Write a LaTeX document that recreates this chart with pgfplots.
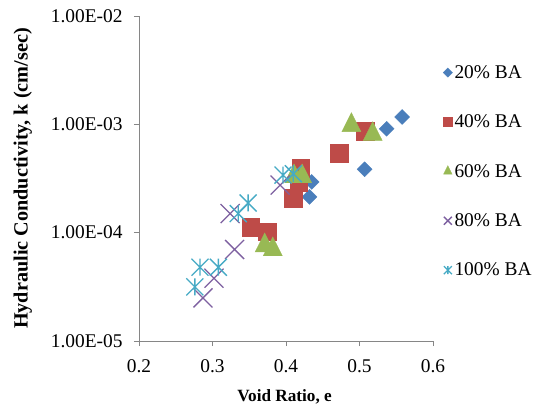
\documentclass[border=0pt]{standalone}
\usepackage{fontspec}
\setmainfont{Liberation Serif}
\usepackage{pgfplots}
\pgfplotsset{compat=1.18}
\definecolor{cBlue}{HTML}{4A7EBB}
\definecolor{cRed}{HTML}{BE4B48}
\definecolor{cGreen}{HTML}{98B954}
\definecolor{cPurple}{HTML}{7D60A0}
\definecolor{cCyan}{HTML}{46AAC5}
\definecolor{axgray}{HTML}{868686}
\newcommand\fz{\fontsize{19.4}{23.3}\selectfont}
\pgfdeclareplotmark{xstar}{%
  \pgfpathmoveto{\pgfqpoint{-\pgfplotmarksize}{-\pgfplotmarksize}}%
  \pgfpathlineto{\pgfqpoint{\pgfplotmarksize}{\pgfplotmarksize}}%
  \pgfpathmoveto{\pgfqpoint{-\pgfplotmarksize}{\pgfplotmarksize}}%
  \pgfpathlineto{\pgfqpoint{\pgfplotmarksize}{-\pgfplotmarksize}}%
  \pgfpathmoveto{\pgfqpoint{0pt}{-\pgfplotmarksize}}%
  \pgfpathlineto{\pgfqpoint{0pt}{\pgfplotmarksize}}%
  \pgfusepathqstroke}
\pgfdeclareplotmark{xcross}{%
  \pgfpathmoveto{\pgfqpoint{-\pgfplotmarksize}{-\pgfplotmarksize}}%
  \pgfpathlineto{\pgfqpoint{\pgfplotmarksize}{\pgfplotmarksize}}%
  \pgfpathmoveto{\pgfqpoint{-\pgfplotmarksize}{\pgfplotmarksize}}%
  \pgfpathlineto{\pgfqpoint{\pgfplotmarksize}{-\pgfplotmarksize}}%
  \pgfusepathqstroke}
\begin{document}
\begin{tikzpicture}
\useasboundingbox (-139pt,-75pt) rectangle (398pt,341pt);
\begin{semilogyaxis}[
  at={(0,0)}, anchor=south west,
  scale only axis, width=294pt, height=325pt,
  xmin=0.2, xmax=0.6, ymin=1e-5, ymax=1e-2,
  axis x line*=bottom, axis y line*=left,
  axis line style={draw=axgray, line width=0.9pt},
  tick style={draw=axgray, line width=0.9pt},
  tick align=outside, major tick length=5pt,
  yminorticks=false,
  xtick={0.2,0.3,0.4,0.5,0.6},
  xticklabels={0.2,0.3,0.4,0.5,0.6},
  ytick={1e-5,1e-4,1e-3,1e-2},
  yticklabels={1.00E-05,1.00E-04,1.00E-03,1.00E-02},
  /pgf/number format/assume math mode=true,
  tick label style={font=\fz},
  xticklabel style={yshift=-10pt},
  yticklabel style={xshift=-8pt},
  xlabel={Void Ratio, e},
  ylabel={Hydraulic Conductivity, k (cm/sec)},
  every axis x label/.style={at={(axis description cs:0.495,-0.172)}, anchor=center, font=\fontsize{17.2}{20}\selectfont\bfseries},
  every axis y label/.style={at={(axis description cs:-0.395,0.5)}, rotate=90, anchor=center, font=\fontsize{20.2}{24}\selectfont\bfseries},
  legend style={draw=none, fill=none, font=\fz, at={(axis description cs:1.034,0.855)}, anchor=north west, row sep=31pt, inner sep=0pt},
  legend cell align=left,
  legend image code/.code={\draw[#1] plot coordinates {(0.25cm,0cm)};},
  clip=false,
]
\addplot[only marks, mark=square*, mark size=5.3pt, color=cBlue, mark options={rotate=45, line width=0.3pt},
  legend image post style={mark size=3.3pt}]
  coordinates {(0.558,1.17e-3) (0.537,9.1e-4) (0.507,3.85e-4) (0.435,2.94e-4) (0.432,2.14e-4)};
\addlegendentry{20\% BA}
\addplot[only marks, mark=square*, mark size=8.8pt, color=cRed, mark options={line width=0.3pt},
  legend image post style={mark size=4.3pt}]
  coordinates {(0.508,8.7e-4) (0.472,5.4e-4) (0.420,3.94e-4) (0.417,2.9e-4) (0.410,2.08e-4) (0.352,1.13e-4) (0.374,1.02e-4)};
\addlegendentry{40\% BA}
\addplot[only marks, mark=triangle*, mark size=11pt, color=cGreen, mark options={yscale=1.15, line width=0.3pt},
  legend image post style={mark size=5pt}]
  coordinates {(0.489,9.8e-4) (0.518,8.1e-4) (0.411,3.3e-4) (0.422,3.3e-4) (0.371,7.6e-5) (0.382,7.0e-5)};
\addlegendentry{60\% BA}
\addplot[only marks, mark=xcross, mark size=9.5pt, color=cPurple, mark options={line width=1.3pt},
  legend image post style={mark size=4pt}]
  coordinates {(0.392,2.75e-4) (0.324,1.5e-4) (0.330,7.0e-5) (0.302,3.8e-5) (0.287,2.5e-5)};
\addlegendentry{80\% BA}
\addplot[only marks, mark=xstar, mark size=8.5pt, color=cCyan, mark options={line width=1.3pt},
  legend image post style={mark size=4pt}]
  coordinates {(0.396,3.4e-4) (0.410,3.5e-4) (0.3485,1.88e-4) (0.335,1.5e-4) (0.283,4.8e-5) (0.308,4.8e-5) (0.276,3.16e-5)};
\addlegendentry{100\% BA}
\end{semilogyaxis}
\end{tikzpicture}
\end{document}
